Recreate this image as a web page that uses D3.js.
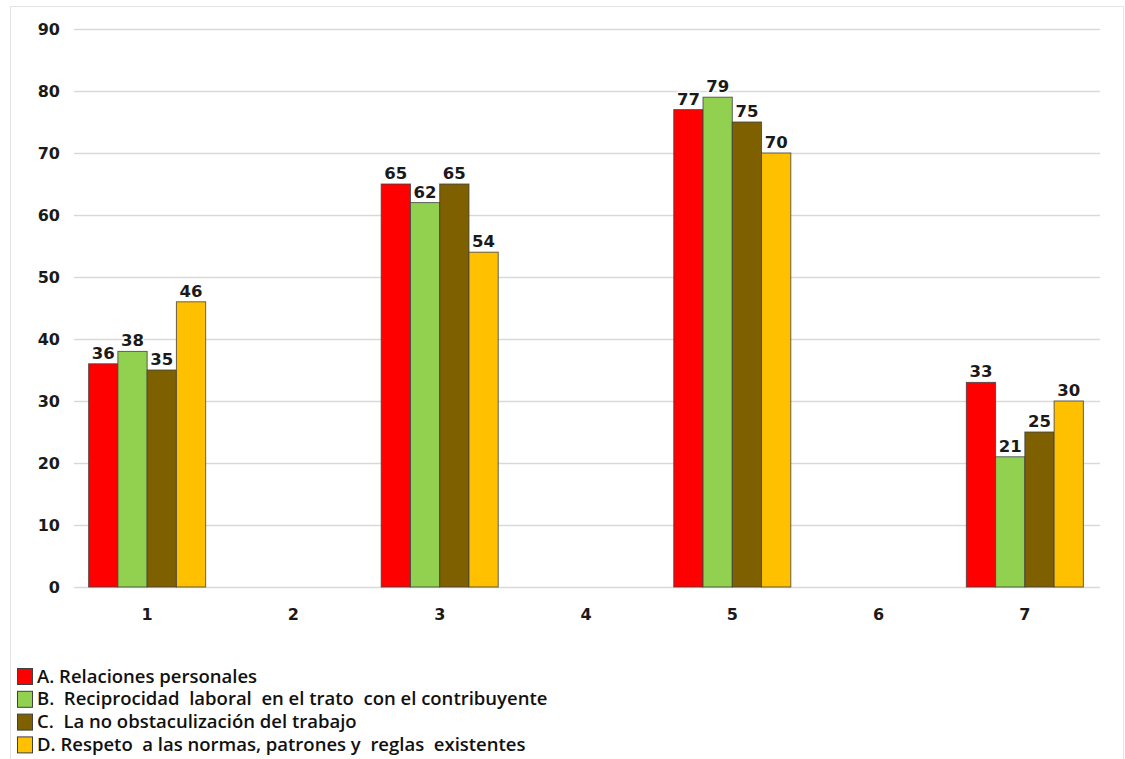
<!DOCTYPE html>
<html>
<head>
<meta charset="utf-8">
<script src="https://cdn.jsdelivr.net/npm/d3@7"></script>
<style>
  html, body { margin: 0; padding: 0; background: #fff; }
  svg { display: block; }
</style>
</head>
<body>
<svg id="chart" width="1125" height="759"></svg>
<script>
// Groups along the x axis (2, 4 and 6 carry no bars)
const categories = ["1", "2", "3", "4", "5", "6", "7"];

// One array per series, null where a group has no value
const seriesA = [36, null, 65, null, 77, null, 33];
const seriesB = [38, null, 62, null, 79, null, 21];
const seriesC = [35, null, 65, null, 75, null, 25];
const seriesD = [46, null, 54, null, 70, null, 30];

const seriesNames = [
  "A. Relaciones personales",
  "B.  Reciprocidad  laboral  en el trato  con el contribuyente",
  "C.  La no obstaculización del trabajo",
  "D. Respeto  a las normas, patrones y  reglas  existentes"
];
const seriesColors = ["#FF0000", "#92D050", "#7F6000", "#FFC000"];
const yTicks = [0, 10, 20, 30, 40, 50, 60, 70, 80, 90];

const series = [seriesA, seriesB, seriesC, seriesD].map((values, i) => ({
  key: "s" + i, name: seriesNames[i], color: seriesColors[i], values
}));

const svg = d3.select("#chart");

// outer frame
svg.append("rect")
  .attr("x", 10.5).attr("y", 6.5)
  .attr("width", 1113).attr("height", 800)
  .attr("fill", "none").attr("stroke", "#e4e4e4").attr("stroke-width", 1);

const plot = { left: 74, right: 1098, top: 29, bottom: 587 };

const x = d3.scaleBand()
  .domain(categories)
  .range([plot.left, plot.right])
  .paddingInner(0.2).paddingOuter(0.1);

const xInner = d3.scaleBand()
  .domain(series.map(s => s.key))
  .range([0, x.bandwidth()]);

const y = d3.scaleLinear()
  .domain([0, 90])
  .range([plot.bottom, plot.top]);

// horizontal gridlines
svg.append("g")
  .selectAll("line")
  .data(yTicks)
  .join("line")
  .attr("x1", plot.left).attr("x2", plot.right + 2)
  .attr("y1", d => Math.round(y(d)) + 0.5).attr("y2", d => Math.round(y(d)) + 0.5)
  .attr("stroke", "#d9d9d9").attr("stroke-width", 1.5);

const labelFont = "DejaVu Sans, Verdana, sans-serif";

// y axis labels
const yAxis = d3.axisLeft(y).tickValues(yTicks).tickSize(0).tickPadding(14);
svg.append("g")
  .attr("transform", `translate(${plot.left},0)`)
  .call(yAxis)
  .call(g => g.select(".domain").remove())
  .call(g => g.selectAll("text")
    .attr("font-family", labelFont)
    .attr("font-size", 16).attr("font-weight", "bold").attr("fill", "#1a1a1a"));

// x axis labels
const xAxis = d3.axisBottom(x).tickSize(0).tickPadding(22);
svg.append("g")
  .attr("transform", `translate(0,${plot.bottom})`)
  .call(xAxis)
  .call(g => g.select(".domain").remove())
  .call(g => g.selectAll("text")
    .attr("font-family", labelFont)
    .attr("font-size", 16).attr("font-weight", "bold").attr("fill", "#1a1a1a"));

// flatten to bar records
const bars = [];
categories.forEach((c, ci) => {
  series.forEach(s => {
    const v = s.values[ci];
    if (v != null) bars.push({ cat: c, key: s.key, color: s.color, value: v });
  });
});

// bars
svg.append("g")
  .selectAll("rect")
  .data(bars)
  .join("rect")
  .attr("x", d => x(d.cat) + xInner(d.key))
  .attr("y", d => y(d.value))
  .attr("width", xInner.bandwidth())
  .attr("height", d => y(0) - y(d.value))
  .attr("fill", d => d.color)
  .attr("stroke", "#3f3f3f").attr("stroke-opacity", 0.8).attr("stroke-width", 1);

// value labels with a white halo
svg.append("g")
  .selectAll("text")
  .data(bars)
  .join("text")
  .attr("x", d => x(d.cat) + xInner(d.key) + xInner.bandwidth() / 2)
  .attr("y", d => y(d.value) - 5)
  .attr("text-anchor", "middle")
  .attr("font-family", labelFont)
  .attr("font-size", 16.5).attr("font-weight", "bold")
  .attr("fill", "#1a1a1a")
  .attr("stroke", "#fff").attr("stroke-width", 3).attr("paint-order", "stroke")
  .text(d => d.value);

// legend
const legend = svg.append("g").attr("transform", "translate(17,668)");
const rows = legend.selectAll("g")
  .data(series)
  .join("g")
  .attr("transform", (d, i) => `translate(0,${i * 22.8})`);
rows.append("rect")
  .attr("x", 0.5).attr("y", 0.5)
  .attr("width", 15).attr("height", 16)
  .attr("fill", d => d.color)
  .attr("stroke", "#404040").attr("stroke-width", 1);
rows.append("text")
  .attr("x", 20).attr("y", 14.5)
  .attr("font-family", "'Open Sans', Lato, sans-serif")
  .attr("font-size", 18.5).attr("font-weight", 600)
  .attr("fill", "#111")
  .attr("xml:space", "preserve")
  .style("white-space", "pre")
  .text(d => d.name);
</script>
</body>
</html>
